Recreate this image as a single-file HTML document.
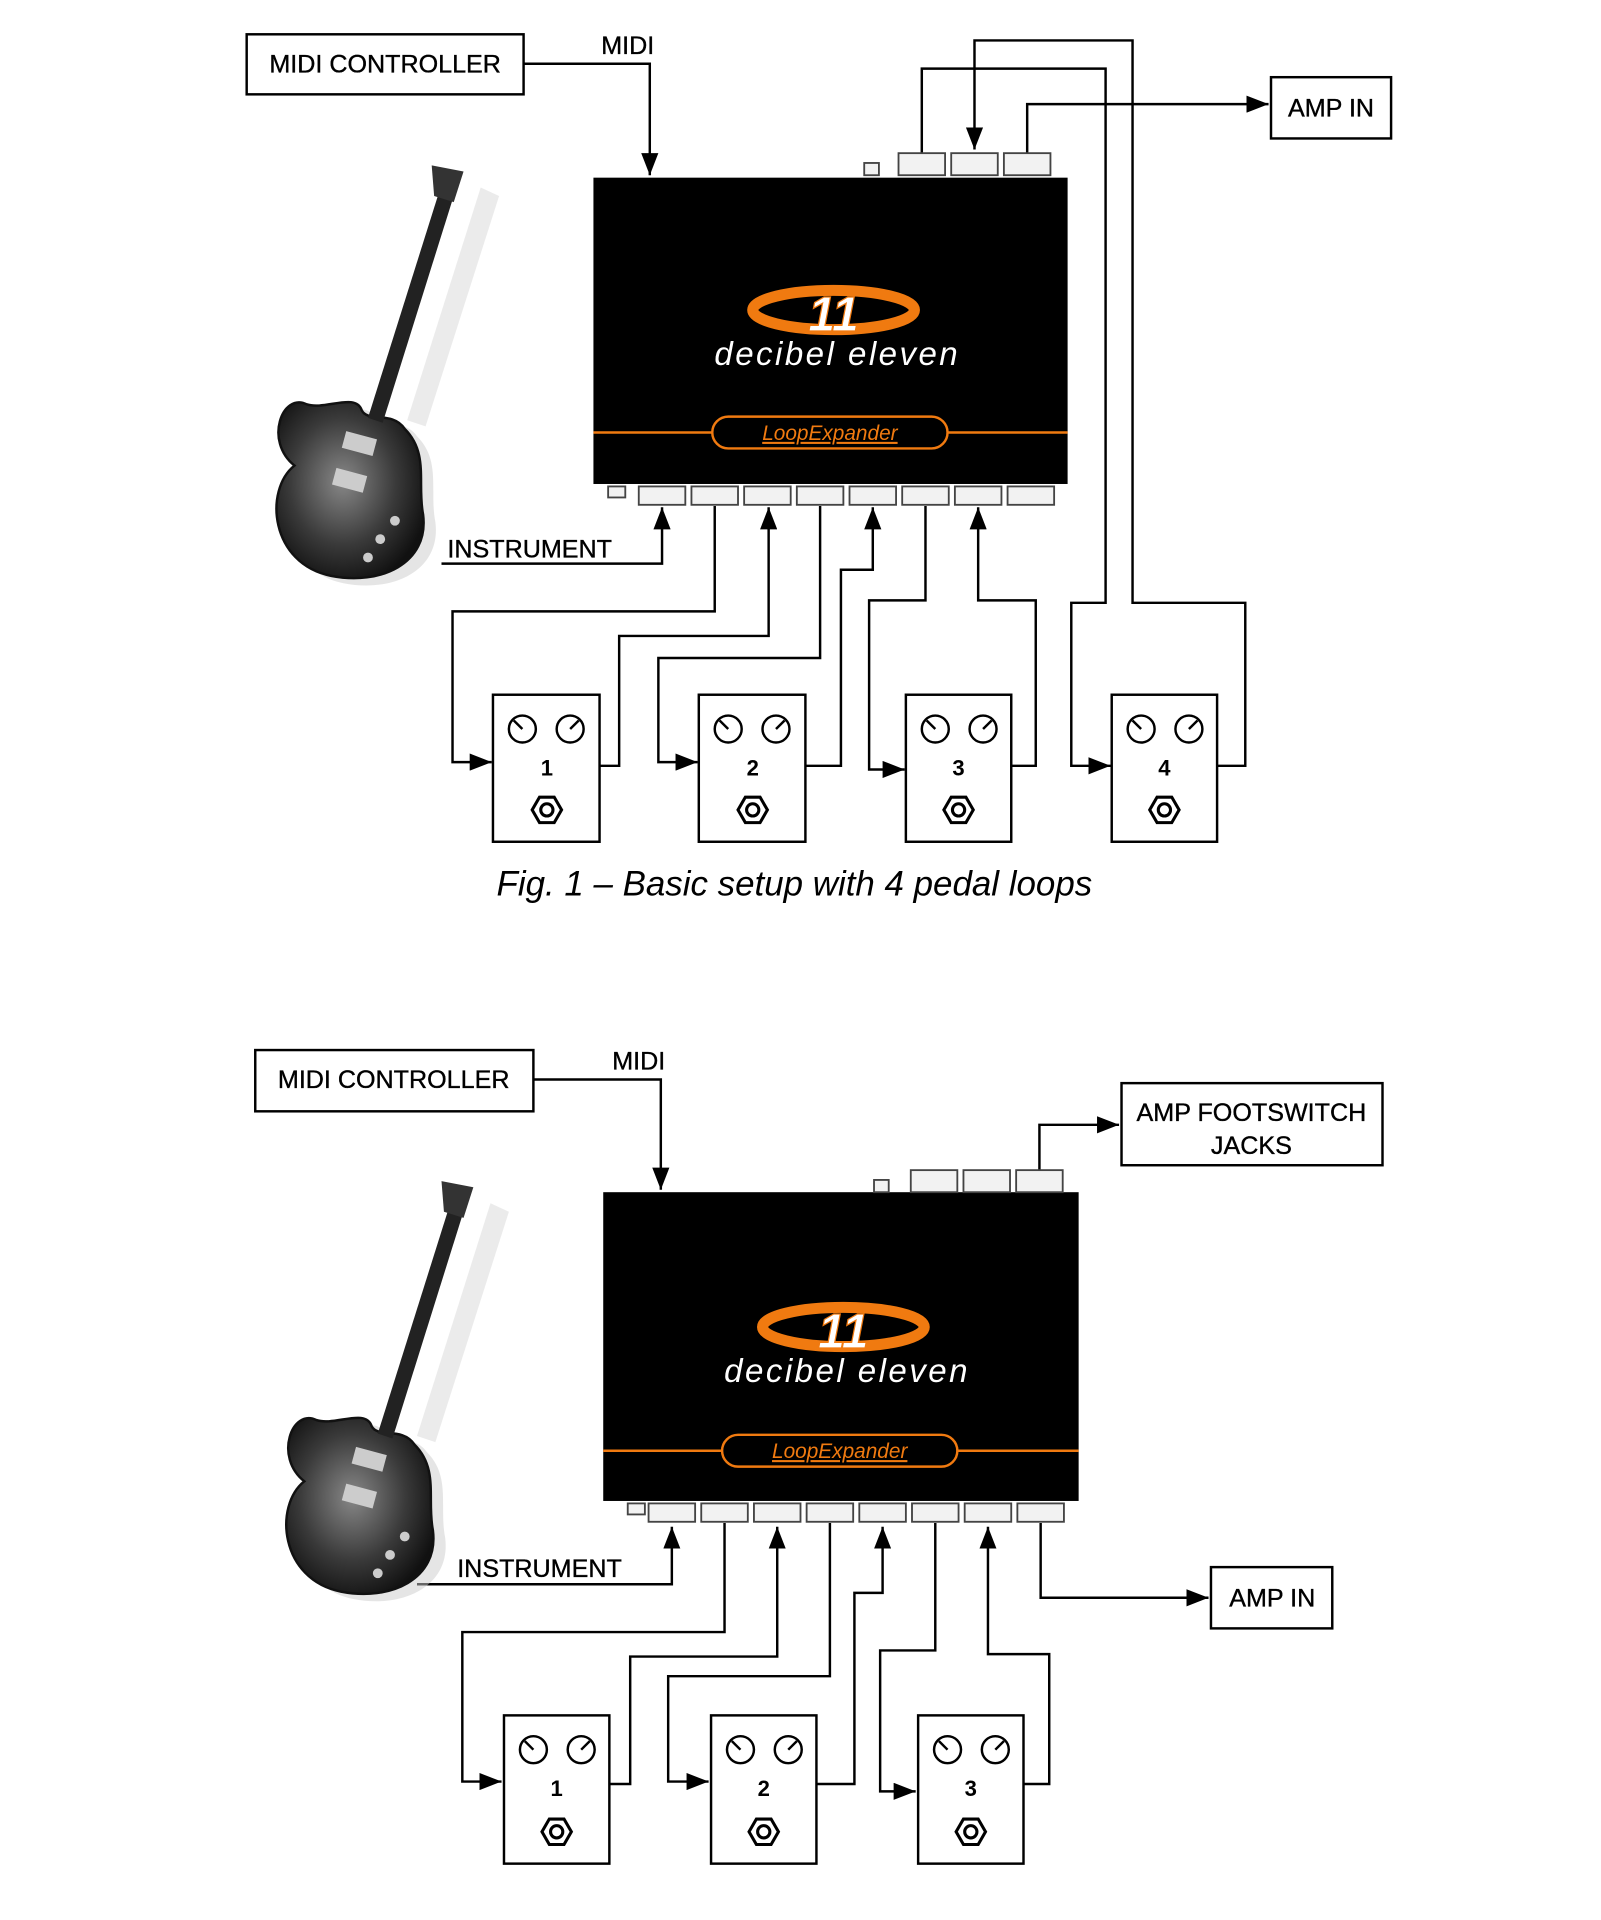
<!DOCTYPE html>
<html><head><meta charset="utf-8"><style>
html,body{margin:0;padding:0;background:#fff;}
svg{display:block;}
text{font-family:"Liberation Sans",sans-serif;}
</style></head><body>
<svg width="1601" height="1920" viewBox="0 0 1306 1567" xmlns="http://www.w3.org/2000/svg">
<defs>
<marker id="a" markerUnits="userSpaceOnUse" markerWidth="20" markerHeight="14" refX="18" refY="7" orient="auto"><path d="M0,0 L18,7 L0,14 Z" fill="#000"/></marker>
<radialGradient id="gb" cx="0.45" cy="0.45" r="0.6"><stop offset="0" stop-color="#888"/><stop offset="0.6" stop-color="#3a3a3a"/><stop offset="1" stop-color="#111"/></radialGradient>
</defs>
<g fill="none" stroke="#000" stroke-width="2">
<rect x="201" y="28" width="226" height="49"/>
<rect x="1037" y="63" width="98" height="50"/>
<polyline points="427,52 530,52 530,143" marker-end="url(#a)"/>
<polyline points="752,125 752,56 902,56 902,492 874,492 874,625 906,625" marker-end="url(#a)"/>
<polyline points="993,625 1016,625 1016,492 924,492 924,33 795,33 795,122" marker-end="url(#a)"/>
<polyline points="838,125 838,85 1035,85" marker-end="url(#a)"/>
<polyline points="360,460 540,460 540,414" marker-end="url(#a)"/>
<polyline points="583,413 583,499 369,499 369,622 401,622" marker-end="url(#a)"/>
<polyline points="489,625 505,625 505,519 627,519 627,414" marker-end="url(#a)"/>
<polyline points="669,413 669,537 537,537 537,622 569,622" marker-end="url(#a)"/>
<polyline points="657,625 686,625 686,465 712,465 712,414" marker-end="url(#a)"/>
<polyline points="755,413 755,490 709,490 709,628 738,628" marker-end="url(#a)"/>
<polyline points="825,625 845,625 845,490 798,490 798,414" marker-end="url(#a)"/>
<rect x="208" y="857" width="227" height="50"/>
<rect x="915" y="884" width="213" height="67"/>
<rect x="988" y="1279" width="99" height="50"/>
<polyline points="435,881 539,881 539,971" marker-end="url(#a)"/>
<polyline points="848,955 848,918 913,918" marker-end="url(#a)"/>
<polyline points="340,1293 548,1293 548,1246" marker-end="url(#a)"/>
<polyline points="591,1243 591,1332 377,1332 377,1454 409,1454" marker-end="url(#a)"/>
<polyline points="497,1456 514,1456 514,1352 634,1352 634,1246" marker-end="url(#a)"/>
<polyline points="677,1243 677,1368 545,1368 545,1454 578,1454" marker-end="url(#a)"/>
<polyline points="666,1456 697,1456 697,1300 720,1300 720,1246" marker-end="url(#a)"/>
<polyline points="763,1243 763,1347 718,1347 718,1462 747,1462" marker-end="url(#a)"/>
<polyline points="835,1456 856,1456 856,1350 806,1350 806,1246" marker-end="url(#a)"/>
<polyline points="849,1243 849,1304 986,1304" marker-end="url(#a)"/>
</g>
<g font-size="20.5" fill="#000" text-anchor="middle" stroke="#000" stroke-width="0.3">
<text x="314" y="59">MIDI CONTROLLER</text>
<text x="512" y="44">MIDI</text>
<text x="1086" y="95">AMP IN</text>
<text x="432" y="455">INSTRUMENT</text>
<text x="321" y="888">MIDI CONTROLLER</text>
<text x="521" y="873">MIDI</text>
<text x="1021" y="915">AMP FOOTSWITCH</text>
<text x="1021" y="942">JACKS</text>
<text x="1038" y="1311">AMP IN</text>
<text x="440" y="1287">INSTRUMENT</text>
</g>
<text x="648" y="731" font-size="28.5" font-style="italic" fill="#000" text-anchor="middle">Fig. 1 – Basic setup with 4 pedal loops</text>
<g>
<rect x="484" y="145" width="387" height="250" fill="#000"/>
<g fill="#f2f2f2" stroke="#444" stroke-width="1.5">
<rect x="705" y="133" width="12" height="10"/>
<rect x="733" y="125" width="38" height="18"/><rect x="776" y="125" width="38" height="18"/><rect x="819" y="125" width="38" height="18"/>
<rect x="496" y="397" width="14" height="9"/>
<rect x="521" y="397" width="38" height="15"/><rect x="564" y="397" width="38" height="15"/><rect x="607" y="397" width="38" height="15"/><rect x="650" y="397" width="38" height="15"/><rect x="693" y="397" width="38" height="15"/><rect x="736" y="397" width="38" height="15"/><rect x="779" y="397" width="38" height="15"/><rect x="822" y="397" width="38" height="15"/>
</g>
<ellipse cx="680" cy="253" rx="66" ry="16" fill="none" stroke="#f07a10" stroke-width="9"/>
<text x="680" y="270" font-size="40" font-weight="bold" font-style="italic" fill="#fff" text-anchor="middle" stroke="#f07a10" stroke-width="1">11</text>
<text x="683" y="298" font-size="27" font-style="italic" fill="#fff" text-anchor="middle" letter-spacing="2">decibel eleven</text>
<line x1="484" y1="353" x2="871" y2="353" stroke="#f07a10" stroke-width="2"/>
<rect x="581" y="340" width="192" height="26" rx="13" fill="#000" stroke="#f07a10" stroke-width="2"/>
<text x="677" y="359" font-size="17" font-style="italic" fill="#f07a10" text-anchor="middle" text-decoration="underline">LoopExpander</text>
</g>
<g transform="translate(8,830)">
<rect x="484" y="143" width="388" height="252" fill="#000"/>
<g fill="#f2f2f2" stroke="#444" stroke-width="1.5">
<rect x="705" y="133" width="12" height="10"/>
<rect x="735" y="125" width="38" height="18"/><rect x="778" y="125" width="38" height="18"/><rect x="821" y="125" width="38" height="18"/>
<rect x="504" y="397" width="14" height="9"/>
<rect x="521" y="397" width="38" height="15"/><rect x="564" y="397" width="38" height="15"/><rect x="607" y="397" width="38" height="15"/><rect x="650" y="397" width="38" height="15"/><rect x="693" y="397" width="38" height="15"/><rect x="736" y="397" width="38" height="15"/><rect x="779" y="397" width="38" height="15"/><rect x="822" y="397" width="38" height="15"/>
</g>
<ellipse cx="680" cy="253" rx="66" ry="16" fill="none" stroke="#f07a10" stroke-width="9"/>
<text x="680" y="270" font-size="40" font-weight="bold" font-style="italic" fill="#fff" text-anchor="middle" stroke="#f07a10" stroke-width="1">11</text>
<text x="683" y="298" font-size="27" font-style="italic" fill="#fff" text-anchor="middle" letter-spacing="2">decibel eleven</text>
<line x1="484" y1="354" x2="872" y2="354" stroke="#f07a10" stroke-width="2"/>
<rect x="581" y="341" width="192" height="26" rx="13" fill="#000" stroke="#f07a10" stroke-width="2"/>
<text x="677" y="360" font-size="17" font-style="italic" fill="#f07a10" text-anchor="middle" text-decoration="underline">LoopExpander</text>
</g>
<g fill="#fff" stroke="#000" stroke-width="2">
<rect x="402" y="567" width="87" height="120"/><circle cx="426" cy="595" r="11"/><circle cx="465" cy="595" r="11"/>
<rect x="570" y="567" width="87" height="120"/><circle cx="594" cy="595" r="11"/><circle cx="633" cy="595" r="11"/>
<rect x="739" y="567" width="86" height="120"/><circle cx="763" cy="595" r="11"/><circle cx="802" cy="595" r="11"/>
<rect x="907" y="567" width="86" height="120"/><circle cx="931" cy="595" r="11"/><circle cx="970" cy="595" r="11"/>
<rect x="411" y="1400" width="86" height="121"/><circle cx="435" cy="1428" r="11"/><circle cx="474" cy="1428" r="11"/>
<rect x="580" y="1400" width="86" height="121"/><circle cx="604" cy="1428" r="11"/><circle cx="643" cy="1428" r="11"/>
<rect x="749" y="1400" width="86" height="121"/><circle cx="773" cy="1428" r="11"/><circle cx="812" cy="1428" r="11"/>
</g>
<g fill="#fff" stroke="#000" stroke-width="2.5">
<polygon points="458,661 452,671.4 440,671.4 434,661 440,650.6 452,650.6"/><circle cx="446" cy="661" r="5"/>
<polygon points="626,661 620,671.4 608,671.4 602,661 608,650.6 620,650.6"/><circle cx="614" cy="661" r="5"/>
<polygon points="794,661 788,671.4 776,671.4 770,661 776,650.6 788,650.6"/><circle cx="782" cy="661" r="5"/>
<polygon points="962,661 956,671.4 944,671.4 938,661 944,650.6 956,650.6"/><circle cx="950" cy="661" r="5"/>
<polygon points="466,1495 460,1505.4 448,1505.4 442,1495 448,1484.6 460,1484.6"/><circle cx="454" cy="1495" r="5"/>
<polygon points="635,1495 629,1505.4 617,1505.4 611,1495 617,1484.6 629,1484.6"/><circle cx="623" cy="1495" r="5"/>
<polygon points="804,1495 798,1505.4 786,1505.4 780,1495 786,1484.6 798,1484.6"/><circle cx="792" cy="1495" r="5"/>
</g>
<g stroke="#000" stroke-width="2">
<line x1="426" y1="595" x2="419" y2="588"/><line x1="465" y1="595" x2="472" y2="588"/>
<line x1="594" y1="595" x2="587" y2="588"/><line x1="633" y1="595" x2="640" y2="588"/>
<line x1="763" y1="595" x2="756" y2="588"/><line x1="802" y1="595" x2="809" y2="588"/>
<line x1="931" y1="595" x2="924" y2="588"/><line x1="970" y1="595" x2="977" y2="588"/>
<line x1="435" y1="1428" x2="428" y2="1421"/><line x1="474" y1="1428" x2="481" y2="1421"/>
<line x1="604" y1="1428" x2="597" y2="1421"/><line x1="643" y1="1428" x2="650" y2="1421"/>
<line x1="773" y1="1428" x2="766" y2="1421"/><line x1="812" y1="1428" x2="819" y2="1421"/>
</g>
<g font-size="18" font-weight="bold" text-anchor="middle" fill="#000">
<text x="446" y="633">1</text><text x="614" y="633">2</text><text x="782" y="633">3</text><text x="950" y="633">4</text>
<text x="454" y="1466">1</text><text x="623" y="1466">2</text><text x="792" y="1466">3</text>
</g>
<g>
<path d="M380,145 L395,152 L335,340 L320,335 Z" fill="#ddd" opacity="0.6" transform="translate(12,8)"/>
<path d="M250,330 C230,320 215,360 240,380 C215,400 220,460 270,470 C310,478 350,460 345,420 C340,395 350,370 330,350 C320,335 300,345 295,335 C290,320 265,335 250,330 Z" fill="#ccc" opacity="0.5" transform="translate(10,6)"/>
<path d="M250,330 C230,320 215,360 240,380 C215,400 220,460 270,470 C310,478 350,460 345,420 C340,395 350,370 330,350 C320,335 300,345 295,335 C290,320 265,335 250,330 Z" fill="url(#gb)" stroke="#111" stroke-width="2"/>
<path d="M357,160 L369,163 L312,345 L300,341 Z" fill="#222"/>
<path d="M352,135 L378,140 L370,165 L354,160 Z" fill="#333"/>
<rect x="280" y="355" width="26" height="14" fill="#ccc" transform="rotate(15 293 362)"/>
<rect x="272" y="385" width="26" height="14" fill="#ccc" transform="rotate(15 285 392)"/>
<circle cx="310" cy="440" r="4" fill="#ccc"/><circle cx="322" cy="425" r="4" fill="#ccc"/><circle cx="300" cy="455" r="4" fill="#ccc"/>
</g>
<g transform="translate(8,829)">
<path d="M380,145 L395,152 L335,340 L320,335 Z" fill="#ddd" opacity="0.6" transform="translate(12,8)"/>
<path d="M250,330 C230,320 215,360 240,380 C215,400 220,460 270,470 C310,478 350,460 345,420 C340,395 350,370 330,350 C320,335 300,345 295,335 C290,320 265,335 250,330 Z" fill="#ccc" opacity="0.5" transform="translate(10,6)"/>
<path d="M250,330 C230,320 215,360 240,380 C215,400 220,460 270,470 C310,478 350,460 345,420 C340,395 350,370 330,350 C320,335 300,345 295,335 C290,320 265,335 250,330 Z" fill="url(#gb)" stroke="#111" stroke-width="2"/>
<path d="M357,160 L369,163 L312,345 L300,341 Z" fill="#222"/>
<path d="M352,135 L378,140 L370,165 L354,160 Z" fill="#333"/>
<rect x="280" y="355" width="26" height="14" fill="#ccc" transform="rotate(15 293 362)"/>
<rect x="272" y="385" width="26" height="14" fill="#ccc" transform="rotate(15 285 392)"/>
<circle cx="310" cy="440" r="4" fill="#ccc"/><circle cx="322" cy="425" r="4" fill="#ccc"/><circle cx="300" cy="455" r="4" fill="#ccc"/>
</g>
</svg>
</body></html>
